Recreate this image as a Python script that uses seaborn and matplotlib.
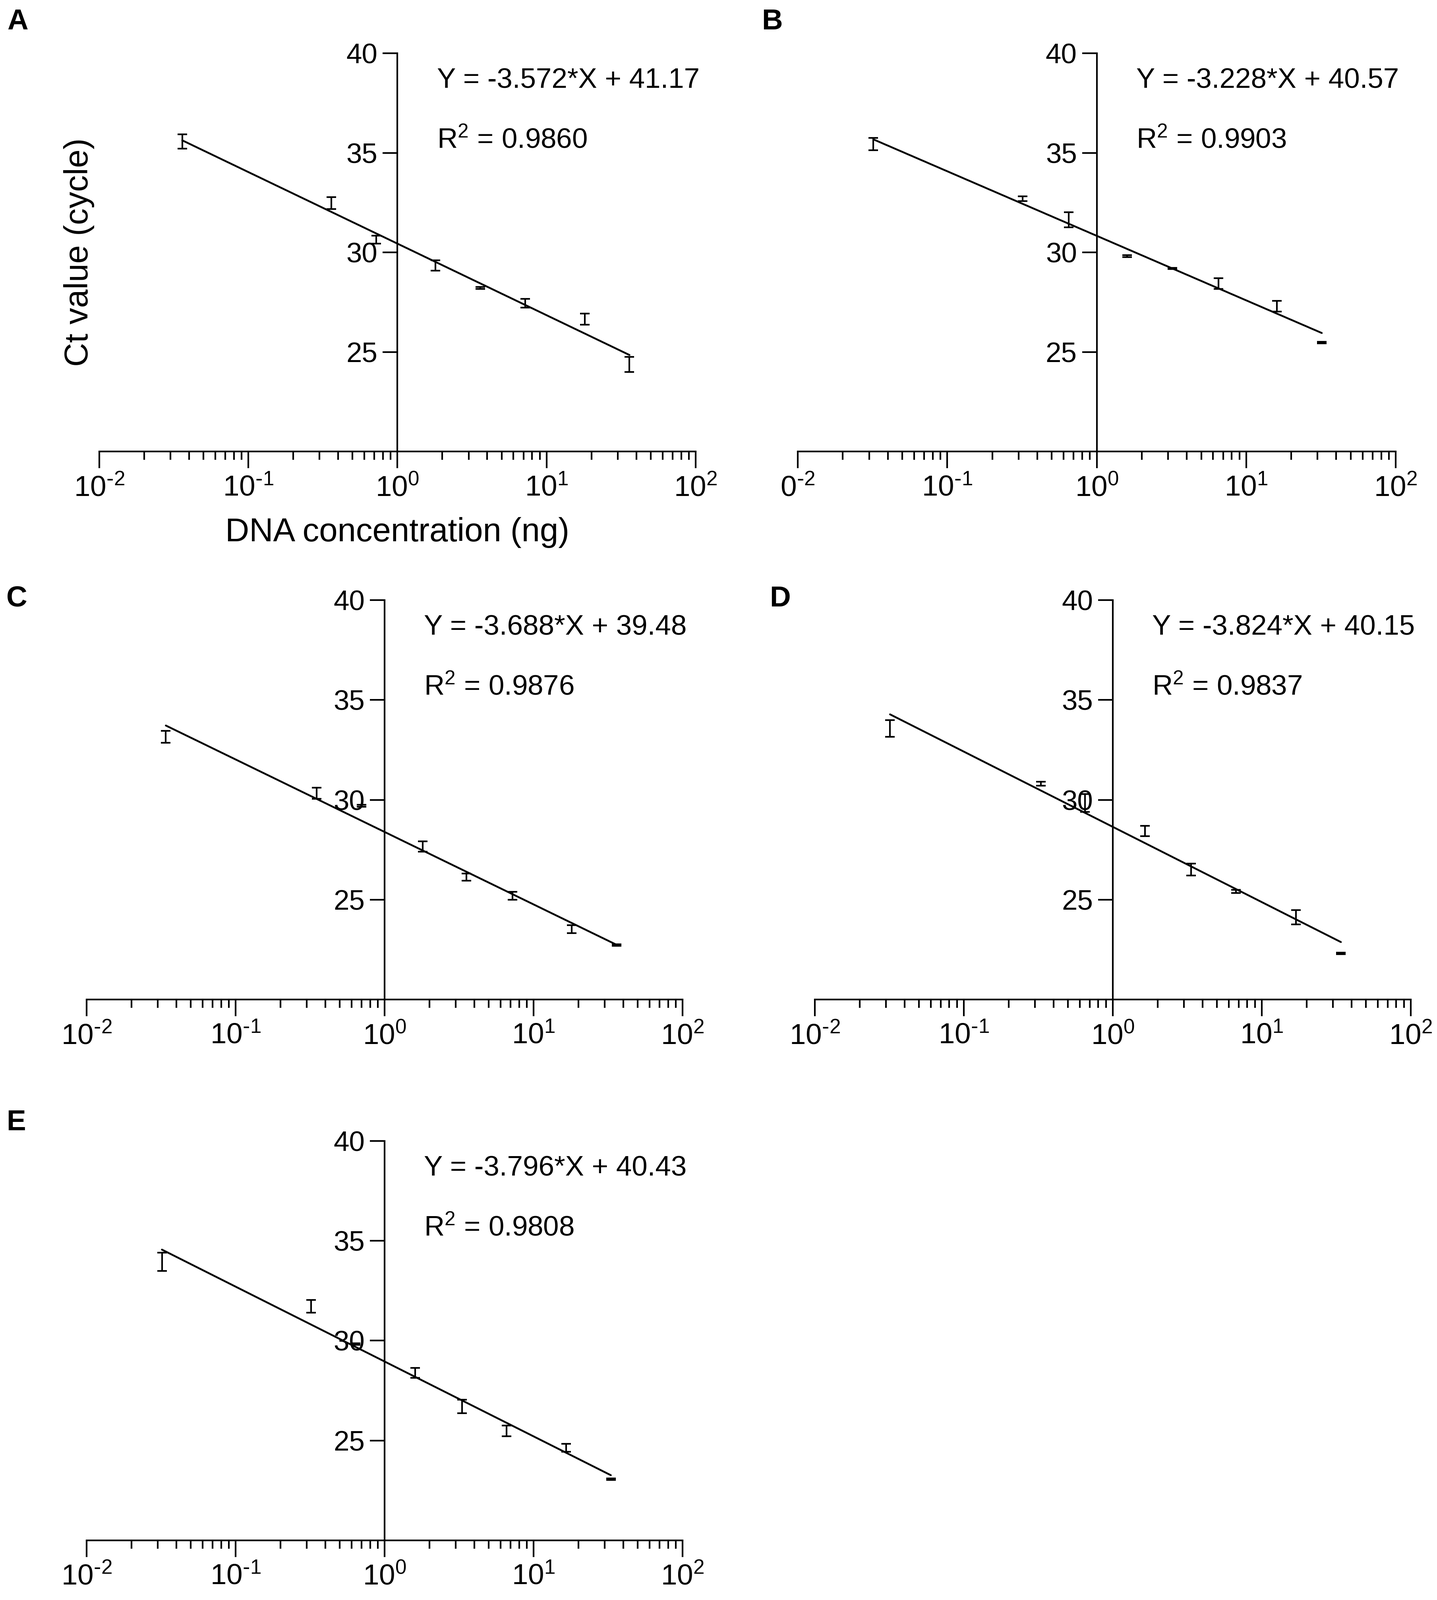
import numpy as np
import pandas as pd
import seaborn as sns
import matplotlib
matplotlib.use("Agg")
import matplotlib.pyplot as plt
from matplotlib.ticker import LogLocator, NullFormatter

# Estilo tipo GraphPad: ejes negros, sin rejilla
sns.set_theme(style="ticks", rc={"axes.edgecolor": "black", "text.color": "black",
                                 "xtick.color": "black", "ytick.color": "black",
                                 "axes.labelcolor": "black"})
plt.rcParams['font.family'] = ['Liberation Sans', 'DejaVu Sans']
plt.rcParams['mathtext.default'] = 'regular'

# Datos (concentracion de ADN en ng, Ct medio, desviacion)
conc_a = [0.036, 0.36, 0.72, 1.8, 3.6, 7.2, 18, 36]
ct_a = [35.57, 32.47, 30.65, 29.34, 28.22, 27.44, 26.65, 24.37]
sd_a = [0.35, 0.30, 0.20, 0.26, 0.05, 0.22, 0.28, 0.38]

conc_b = [0.032, 0.32, 0.65, 1.6, 3.2, 6.5, 16, 32]
ct_b = [35.45, 32.70, 31.64, 29.82, 29.19, 28.43, 27.29, 25.47]
sd_b = [0.31, 0.12, 0.38, 0.05, 0.03, 0.27, 0.27, 0.04]

conc_c = [0.034, 0.35, 0.70, 1.8, 3.55, 7.2, 18, 36]
ct_c = [33.16, 30.33, 29.70, 27.67, 26.13, 25.20, 23.53, 22.72]
sd_c = [0.30, 0.27, 0.05, 0.26, 0.18, 0.20, 0.20, 0.04]

conc_d = [0.032, 0.33, 0.65, 1.65, 3.35, 6.7, 17, 34]
ct_d = [33.58, 30.81, 29.84, 28.44, 26.51, 25.41, 24.12, 22.31]
sd_d = [0.42, 0.10, 0.45, 0.25, 0.29, 0.08, 0.35, 0.04]

conc_e = [0.032, 0.32, 0.64, 1.6, 3.3, 6.6, 16.5, 33]
ct_e = [33.95, 31.72, 29.83, 28.38, 26.71, 25.48, 24.64, 23.07]
sd_e = [0.46, 0.32, 0.04, 0.25, 0.34, 0.27, 0.20, 0.04]

letters = ["A", "B", "C", "D", "E"]
equations = ["Y = -3.572*X + 41.17", "Y = -3.228*X + 40.57", "Y = -3.688*X + 39.48",
             "Y = -3.824*X + 40.15", "Y = -3.796*X + 40.43"]
r2_values = ["0.9860", "0.9903", "0.9876", "0.9837", "0.9808"]

x_ticks = [0.01, 0.1, 1, 10, 100]
x_tick_labels = [r"$10^{\text{-}2}$", r"$10^{\text{-}1}$", r"$10^{0}$", r"$10^{1}$", r"$10^{2}$"]
x_tick_labels_b = [r"$0^{\text{-}2}$"] + x_tick_labels[1:]
y_ticks = [25, 30, 35, 40]

series = [(conc_a, ct_a, sd_a), (conc_b, ct_b, sd_b), (conc_c, ct_c, sd_c),
          (conc_d, ct_d, sd_d), (conc_e, ct_e, sd_e)]

# posicion de cada panel en fraccion de la figura
rects = [[0.0691, 0.7178, 0.4150, 0.2489],
         [0.5552, 0.7178, 0.4161, 0.2489],
         [0.0603, 0.3753, 0.4147, 0.2496],
         [0.5670, 0.3753, 0.4147, 0.2496],
         [0.0603, 0.0373, 0.4147, 0.2496]]
letter_pos = [(0.005, 0.9816), (0.530, 0.9816), (0.0045, 0.621), (0.5355, 0.621), (0.0045, 0.2935)]

fig = plt.figure(figsize=(3617 / 300, 4026 / 300), dpi=300)

for i, (conc, ct, sd) in enumerate(series):
    ax = fig.add_axes(rects[i])
    df = pd.DataFrame({"conc": conc, "ct": ct})

    # recta de regresion sobre log(x)
    sns.regplot(data=df, x="conc", y="ct", logx=True, ci=None, scatter=False,
                truncate=True, color="black", line_kws={"linewidth": 1.1}, ax=ax)
    ax.errorbar(conc, ct, yerr=sd, fmt="none", ecolor="black",
                elinewidth=1.0, capsize=2.8, capthick=1.0)

    ax.set_xscale("log")
    ax.set_xlim(0.01, 100)
    ax.set_ylim(20, 40)

    sns.despine(ax=ax)
    ax.spines["left"].set_position(("data", 1))
    ax.spines["left"].set_linewidth(1.0)
    ax.spines["bottom"].set_linewidth(1.0)

    ax.set_xticks(x_ticks)
    ax.set_xticklabels(x_tick_labels_b if i == 1 else x_tick_labels)
    ax.xaxis.set_minor_locator(LogLocator(base=10, subs=np.arange(2, 10), numticks=20))
    ax.xaxis.set_minor_formatter(NullFormatter())
    ax.set_yticks(y_ticks)

    ax.tick_params(axis="x", which="major", length=10, width=1.0, direction="out",
                   labelsize=17.5, pad=4)
    ax.tick_params(axis="x", which="minor", length=5, width=1.0, direction="out")
    ax.tick_params(axis="y", which="major", length=9, width=1.0, direction="out",
                   labelsize=17, pad=3)

    ax.set_xlabel("")
    ax.set_ylabel("")
    if i == 0:
        ax.set_ylabel("Ct value (cycle)", fontsize=20)
        ax.yaxis.set_label_coords(-0.008, 0.5)
        ax.set_xlabel("DNA concentration (ng)", fontsize=20)
        ax.xaxis.set_label_coords(0.5, -0.165)

    ax.text(0.566, 0.913, equations[i], transform=ax.transAxes, fontsize=17, va="baseline")
    ax.text(0.566, 0.763, "R$^{2}$ = " + r2_values[i], transform=ax.transAxes,
            fontsize=17, va="baseline")

    fig.text(letter_pos[i][0], letter_pos[i][1], letters[i], fontsize=17.5,
             fontweight="bold", va="baseline")

fig.savefig("out.png", dpi=300, facecolor="white")
